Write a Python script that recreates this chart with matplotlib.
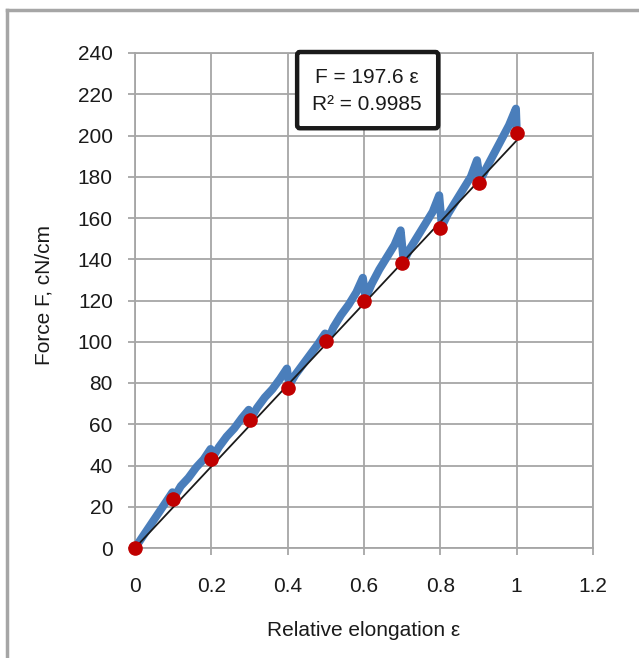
import matplotlib
matplotlib.use("Agg")
import matplotlib.pyplot as plt
from matplotlib.patches import FancyBboxPatch
from matplotlib.lines import Line2D
import numpy as np

plt.rcParams['font.family'] = ['Liberation Sans', 'DejaVu Sans']

# Measured curve (blue), sawtooth loading
curve_eps = [0.000, 0.020, 0.040, 0.060, 0.080, 0.098, 0.104,
             0.120, 0.140, 0.160, 0.180, 0.198, 0.204,
             0.220, 0.240, 0.260, 0.280, 0.298, 0.304,
             0.320, 0.340, 0.360, 0.380, 0.398, 0.404,
             0.420, 0.440, 0.460, 0.480, 0.498, 0.504,
             0.520, 0.540, 0.560, 0.580, 0.597, 0.604,
             0.620, 0.640, 0.660, 0.680, 0.696, 0.704,
             0.720, 0.740, 0.760, 0.780, 0.797, 0.804,
             0.820, 0.840, 0.860, 0.880, 0.896, 0.904,
             0.920, 0.940, 0.960, 0.980, 0.998, 1.000]
curve_force = [0, 5.5, 11, 16.5, 22, 27, 25,
               30, 34, 39, 43, 48, 44,
               49, 54, 58, 63, 67, 63,
               68, 73, 77, 82, 87, 79,
               84, 89, 94, 99, 104, 100,
               107, 113, 118, 124, 131, 121,
               128, 135, 141, 147, 154, 139,
               145, 151, 157, 163, 171, 156,
               162, 168, 174, 180, 188, 178,
               184, 191, 198, 205, 213, 203]

# Points (red)
point_eps = [0.0, 0.1, 0.2, 0.3, 0.4, 0.5, 0.6, 0.7, 0.8, 0.9, 1.0]
point_force = [0, 24, 43, 62, 77.5, 100.5, 120, 138, 155, 177, 201]

# Linear fit
slope = 197.6
r2 = 0.9985
fit_eps = [0.0, 1.0]

x_ticks = [0, 0.2, 0.4, 0.6, 0.8, 1.0, 1.2]
x_tick_labels = ["0", "0.2", "0.4", "0.6", "0.8", "1", "1.2"]
y_ticks = list(range(0, 241, 20))

W, H = 639, 658
fig = plt.figure(figsize=(W/100, H/100), dpi=100)
ax = fig.add_axes([135/W, 1-548/H, (593-135)/W, (548-53)/H])

grid_c = '#a6a6a6'
txt_c = '#1a1a1a'
ax.set_xlim(0, 1.2)
ax.set_ylim(0, 240)
ax.set_xticks(x_ticks)
ax.set_xticklabels(x_tick_labels)
ax.set_yticks(y_ticks)
ax.grid(True, color=grid_c, linewidth=1.3)
ax.set_axisbelow(True)
for s in ax.spines.values():
    s.set_color(grid_c)
    s.set_linewidth(1.3)
ax.tick_params(axis='both', direction='out', length=5, width=1.3, color=grid_c,
               labelsize=15, labelcolor=txt_c)
ax.tick_params(axis='x', pad=16)
ax.tick_params(axis='y', pad=11)

ax.plot(curve_eps, curve_force, color='#4a7ebb', linewidth=5.8,
        solid_joinstyle='round', solid_capstyle='round', zorder=3)
ax.plot(fit_eps, [slope*e for e in fit_eps], color=txt_c, linewidth=1.3, zorder=4)
ax.plot(point_eps, point_force, 'o', color='#c00000', markersize=9.5, zorder=5,
        clip_on=False)

ax.set_xlabel("Relative elongation ε", fontsize=15, color=txt_c, labelpad=18)
ax.set_ylabel("Force F, cN/cm", fontsize=15, color=txt_c)
ax.yaxis.set_label_coords(-0.177, 0.511)

# Equation box
box = FancyBboxPatch((0.354, 0.848), 0.308, 0.154,
                     boxstyle="round,pad=0,rounding_size=0.006",
                     transform=ax.transAxes, facecolor='white', edgecolor=txt_c,
                     linewidth=3.2, clip_on=False, zorder=6)
ax.add_patch(box)
ax.text(0.506, 0.951, f"F = {slope} ε", transform=ax.transAxes, ha='center', va='center',
        fontsize=15, color=txt_c, zorder=7)
ax.text(0.506, 0.896, f"R² = {r2}", transform=ax.transAxes, ha='center', va='center',
        fontsize=15, color=txt_c, zorder=7)

# Outer frame (left and top edges visible)
fig.add_artist(Line2D([7/W, 7/W], [0, 1-10/H], transform=fig.transFigure,
                      color='#a6a6a6', linewidth=2.5))
fig.add_artist(Line2D([7/W, 1], [1-10/H, 1-10/H], transform=fig.transFigure,
                      color='#a6a6a6', linewidth=2.5))

fig.savefig("out.png", dpi=100)
